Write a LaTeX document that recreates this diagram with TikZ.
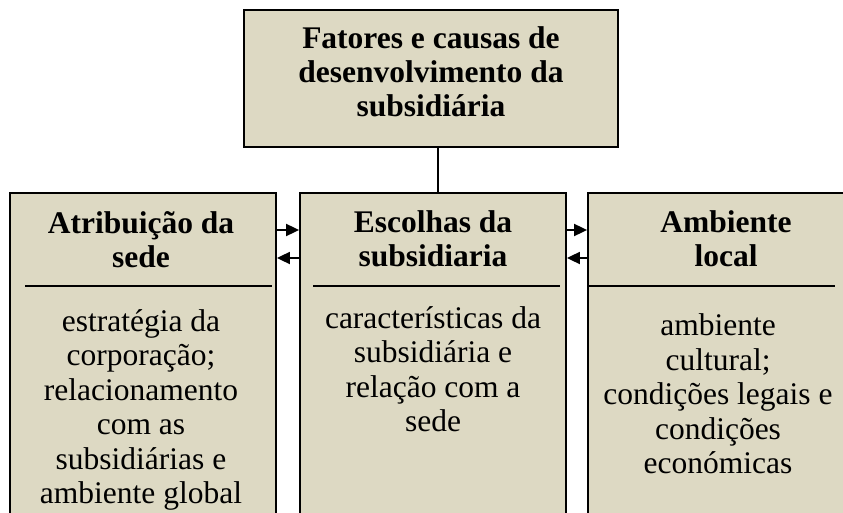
\documentclass[tikz,border=0pt]{standalone}
\usepackage{fontspec}
\setmainfont{Liberation Serif}
\usetikzlibrary{arrows.meta}
\definecolor{tan}{HTML}{DDD9C3}
\tikzset{
  box/.style={draw=black, line width=1.8pt, fill=tan, inner sep=0pt},
  ttl/.style={align=center, font=\fontsize{31.5}{34}\selectfont\bfseries, inner sep=0pt},
  bdy/.style={align=center, font=\fontsize{31.5}{34.5}\selectfont, inner sep=0pt},
  sep/.style={line width=1.8pt},
  arr/.style={line width=1.8pt, -{Triangle[length=13pt,width=12pt]}},
  conn/.style={line width=1.8pt}
}
\begin{document}
\begin{tikzpicture}[x=1pt,y=-1pt]
\useasboundingbox (0,0) rectangle (843,513);
\clip (0,0) rectangle (843,513);
% boxes
\node[box, minimum width=374pt, minimum height=137pt] (T) at (431,78.5) {};
\node[box, minimum width=266pt, minimum height=347pt] (L) at (143,366.5) {};
\node[box, minimum width=266pt, minimum height=347pt] (M) at (433,366.5) {};
\node[box, minimum width=266pt, minimum height=347pt] (R) at (721,366.5) {};
% texts
\node[ttl] (Tt) at (431,72) {Fatores e causas de\\desenvolvimento da\\subsidiária};
\node[ttl] (Lt) at (141,240) {Atribuição da\\sede};
\node[ttl] (Mt) at (433,239) {Escolhas da\\subsidiaria};
\node[ttl] (Rt) at (726,239) {Ambiente\\local};
\node[bdy] (Lb) at (141,410) {estratégia da\\corporação;\\relacionamento\\com as\\subsidiárias e\\ambiente global};
\node[bdy] (Mb) at (433,369) {características da\\subsidiária e\\relação com a\\sede};
\node[bdy] (Rb) at (718,394) {ambiente\\cultural;\\condições legais e\\condições\\económicas};
% separators
\draw[sep] (25,286) -- (272,286);
\draw[sep] (313,286) -- (560,286);
\draw[sep] (588,286) -- (835,286);
% connectors
\coordinate (v) at (438,0);
\coordinate (u) at (0,230);
\coordinate (w) at (0,258);
\draw[conn] (T.south -| v) -- (M.north -| v);
\draw[arr] (L.east |- u) -- (M.west |- u);
\draw[arr] (M.west |- w) -- (L.east |- w);
\draw[arr] (M.east |- u) -- (R.west |- u);
\draw[arr] (R.west |- w) -- (M.east |- w);
\end{tikzpicture}
\end{document}
